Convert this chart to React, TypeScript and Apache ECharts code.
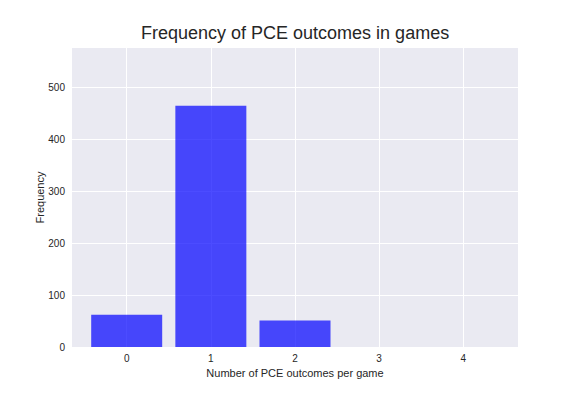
import React, { useEffect, useRef } from "react";
import * as echarts from "echarts";

const outcomes = [0, 1, 2, 3, 4];
const frequencies = [62, 464, 51, 0, 0];
const yTicks = [0, 100, 200, 300, 400, 500];

export default function App() {
  const ref = useRef<HTMLDivElement>(null);
  useEffect(() => {
    const chart = echarts.init(ref.current!, null, { renderer: "svg" });
    const font = "'Liberation Sans', Arial, sans-serif";
    chart.setOption({
      animation: false,
      backgroundColor: "#ffffff",
      title: {
        text: "Frequency of PCE outcomes in games",
        left: 141,
        top: 24,
        padding: 0,
        textStyle: { fontFamily: font, fontSize: 18, fontWeight: "normal", color: "#262626" },
      },
      grid: {
        left: 72,
        right: 58,
        top: 48,
        bottom: 49,
        show: true,
        backgroundColor: "#EAEAF2",
        borderWidth: 0,
      },
      xAxis: {
        type: "value",
        min: -0.65,
        max: 4.65,
        name: "Number of PCE outcomes per game",
        nameLocation: "middle",
        nameGap: 18,
        nameTextStyle: { fontFamily: font, fontSize: 11, color: "#262626" },
        axisLine: { show: false },
        axisTick: { show: false, customValues: outcomes },
        axisLabel: {
          customValues: outcomes,
          fontFamily: font,
          fontSize: 10,
          color: "#262626",
          margin: 6,
        },
        splitLine: { show: true, lineStyle: { color: "#ffffff", width: 1 } },
      },
      yAxis: {
        type: "value",
        min: 0,
        max: 575,
        name: "Frequency",
        nameLocation: "middle",
        nameGap: 27,
        nameMoveOverlap: false,
        nameTextStyle: { fontFamily: font, fontSize: 11, color: "#262626" },
        axisLine: { show: false },
        axisTick: { show: false, customValues: yTicks },
        axisLabel: {
          customValues: yTicks,
          fontFamily: font,
          fontSize: 10,
          color: "#262626",
          margin: 7,
        },
        splitLine: { show: true, lineStyle: { color: "#ffffff", width: 1 } },
      },
      series: [
        {
          type: "bar",
          data: outcomes.map((o, i) => [o, frequencies[i]]),
          barWidth: 71,
          itemStyle: { color: "rgba(0,0,255,0.7)" },
        },
      ],
    });
    return () => chart.dispose();
  }, []);
  return <div ref={ref} style={{ width: 576, height: 396, position: "absolute", left: 0, top: 0 }} />;
}
